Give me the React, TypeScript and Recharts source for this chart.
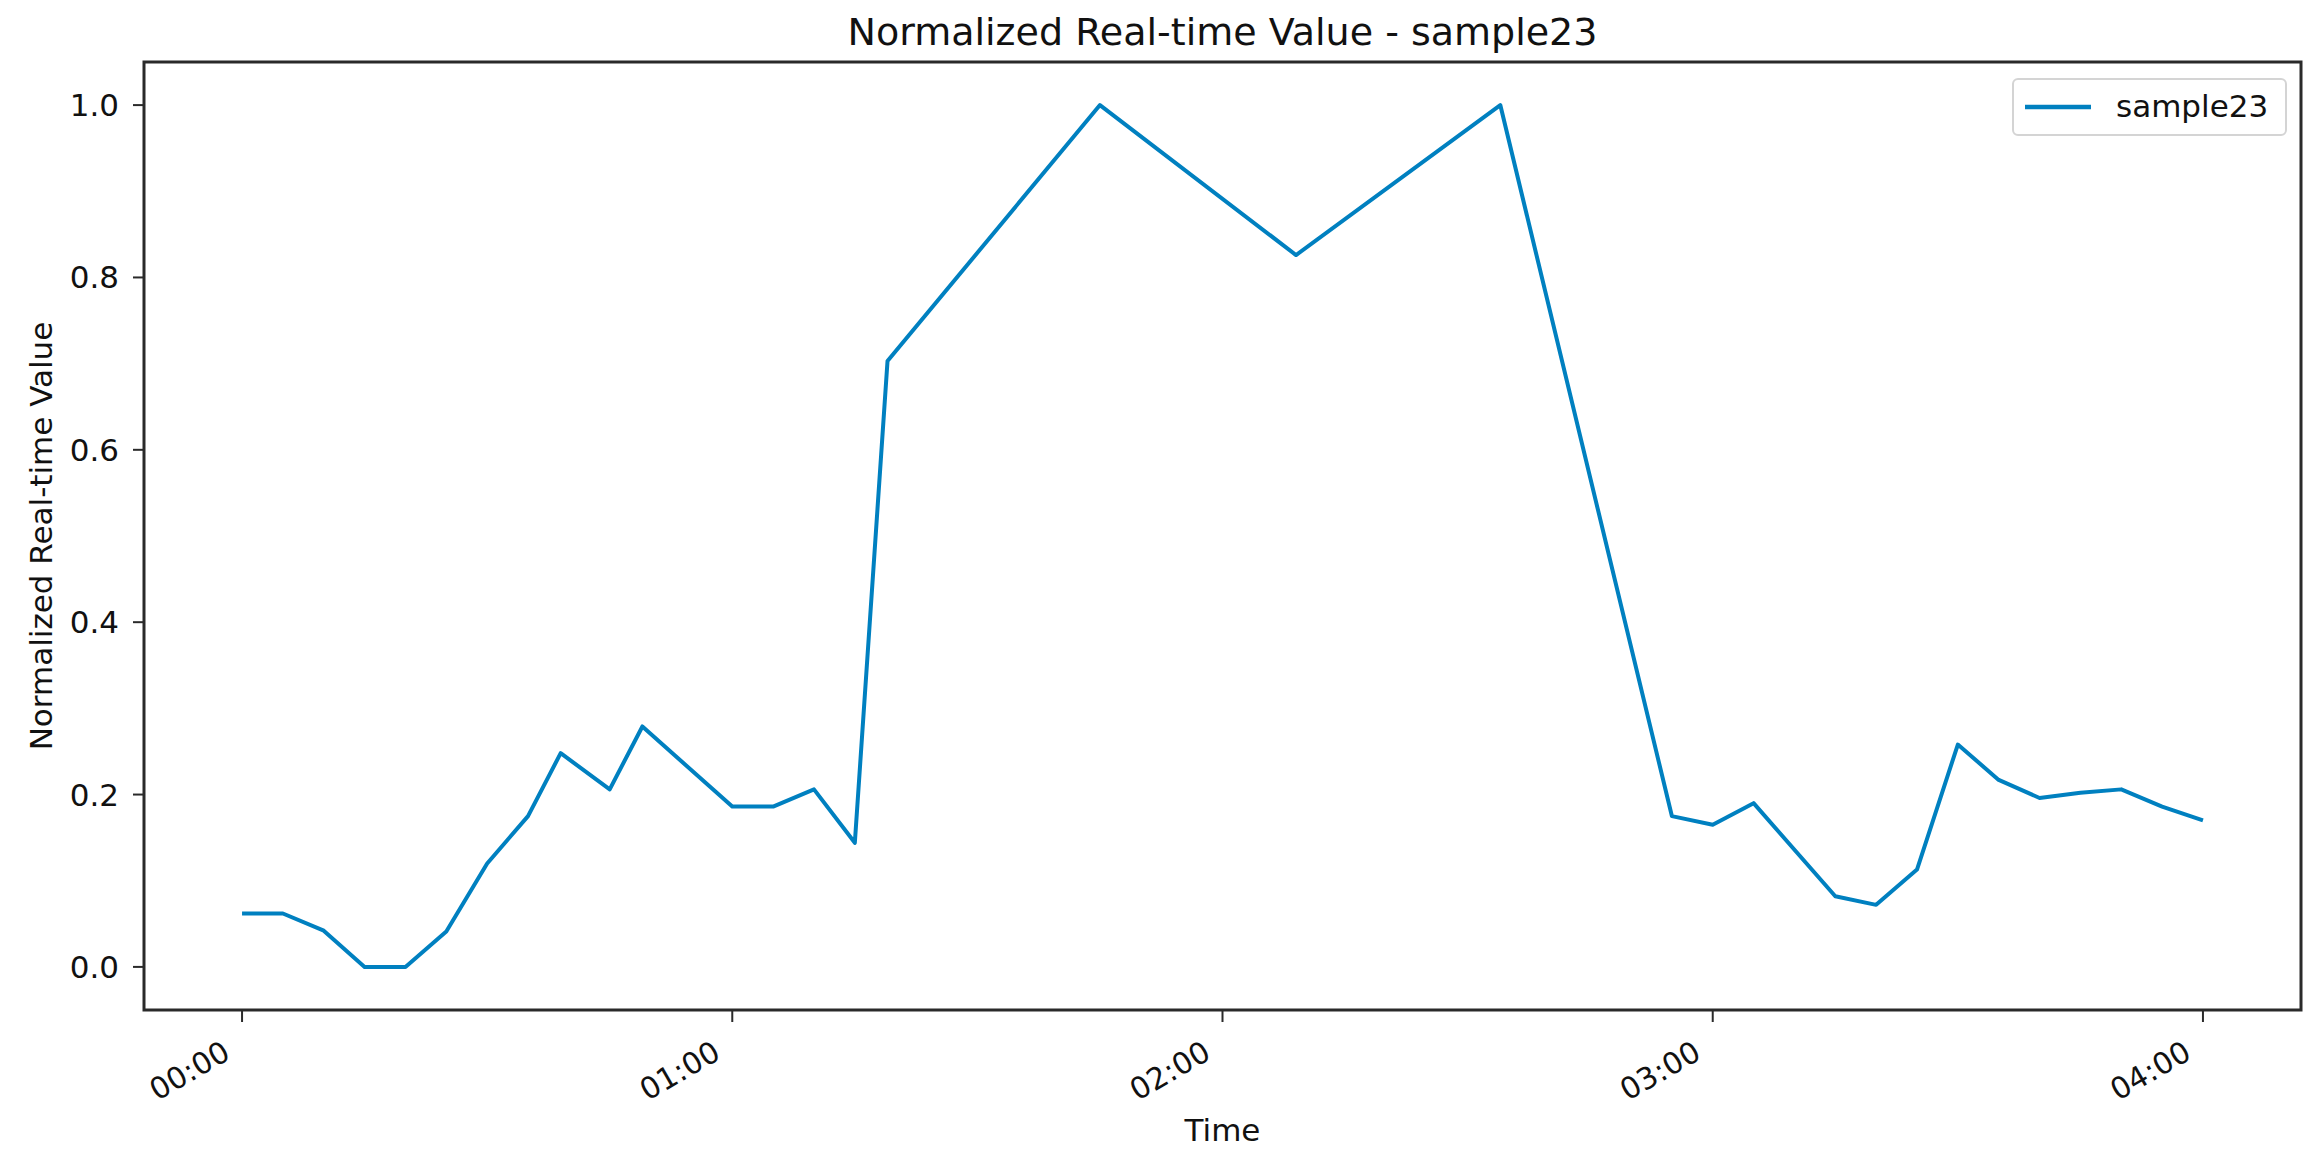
import React from 'react';
import {
  LineChart,
  Line,
  XAxis,
  YAxis,
  Legend,
  ReferenceArea,
} from 'recharts';

// --- Data (minutes since 00:00, normalized value) ---
const minutes = [
  0, 5, 10, 15, 20, 25, 30, 35, 39, 45, 49, 60, 65, 70, 75, 79,
  105, 129, 154, 175, 180, 185, 195, 200, 205, 210, 215, 220, 225, 230, 235, 240,
];
const values = [
  0.062, 0.062, 0.042, 0.0, 0.0, 0.041, 0.12, 0.175, 0.248, 0.206, 0.279, 0.186, 0.186, 0.206, 0.144, 0.703,
  1.0, 0.826, 1.0, 0.175, 0.165, 0.19, 0.082, 0.072, 0.113, 0.258, 0.217, 0.196, 0.202, 0.206, 0.186, 0.17,
];
const xTicks = [0, 60, 120, 180, 240];
const yTicks = [0, 0.2, 0.4, 0.6, 0.8, 1.0];
const seriesName = 'sample23';

const data = minutes.map((t, i) => ({ t, v: values[i] }));

const W = 2322;
const H = 1166;
const FONT = '"DejaVu Sans", sans-serif';
const LINE_COLOR = '#0080c0';
const TEXT_COLOR = '#111';
const SPINE = '#2a2a2a';

const fmtTime = (m: number) => {
  const h = Math.floor(m / 60);
  const mm = m % 60;
  return `${String(h).padStart(2, '0')}:${String(mm).padStart(2, '0')}`;
};

// rotated tick labels like matplotlib's autofmt_xdate
const TimeTick = (props: any) => {
  const { x, y, payload } = props;
  const ax = x - 10;
  const ay = y + 36;
  return (
    <text
      x={ax}
      y={ay}
      textAnchor="end"
      transform={`rotate(-30, ${ax}, ${ay})`}
      fontFamily={FONT}
      fontSize={30}
      fill={TEXT_COLOR}
    >
      {fmtTime(payload.value)}
    </text>
  );
};

const LegendBox = (props: any) => {
  const item = props.payload && props.payload[0];
  return (
    <div
      style={{
        boxSizing: 'border-box',
        width: 275,
        height: 58,
        border: '2px solid #d4d4d4',
        borderRadius: 6,
        background: 'rgba(255,255,255,0.8)',
        display: 'flex',
        alignItems: 'center',
        fontFamily: FONT,
        fontSize: 31,
        color: TEXT_COLOR,
      }}
    >
      <svg width={104} height={20} style={{ flex: 'none', marginLeft: -2 }}>
        <line x1={13} x2={79} y1={10} y2={10} stroke={item ? item.color : LINE_COLOR} strokeWidth={4.5} />
      </svg>
      <span style={{ lineHeight: '31px', marginTop: -2 }}>{item ? item.value : seriesName}</span>
    </div>
  );
};

const App: React.FC = () => {
  return (
    <div style={{ position: 'absolute', left: 0, top: 0, width: W, height: H, background: '#fff' }}>
      <div
        style={{
          position: 'absolute',
          left: 144,
          width: 2157,
          top: 13,
          textAlign: 'center',
          fontFamily: FONT,
          fontSize: 38,
          lineHeight: '38px',
          color: TEXT_COLOR,
        }}
      >
        Normalized Real-time Value - sample23
      </div>
      <LineChart width={W} height={H} data={data} margin={{ top: 62, right: 21, left: 0, bottom: 0 }}>
        <XAxis
          dataKey="t"
          type="number"
          domain={[-12, 252]}
          ticks={xTicks}
          allowDataOverflow
          height={156}
          axisLine={false}
          tickSize={12}
          tickMargin={0}
          tickLine={{ stroke: SPINE, strokeWidth: 2 }}
          tick={<TimeTick />}
          label={{
            content: (p: any) => {
              const vb = p.viewBox || { x: 144, y: 1010, width: 2157 };
              return (
                <text
                  x={vb.x + vb.width / 2}
                  y={vb.y + 131}
                  textAnchor="middle"
                  fontFamily={FONT}
                  fontSize={31}
                  fill={TEXT_COLOR}
                >
                  Time
                </text>
              );
            },
          }}
        />
        <YAxis
          type="number"
          domain={[-0.05, 1.05]}
          ticks={yTicks}
          allowDataOverflow
          width={144}
          axisLine={false}
          tickSize={11}
          tickMargin={14}
          tickLine={{ stroke: SPINE, strokeWidth: 2 }}
          tick={{ fontFamily: FONT, fontSize: 31, fill: TEXT_COLOR }}
          tickFormatter={(v: number) => v.toFixed(1)}
          label={{
            content: (p: any) => {
              const vb = p.viewBox || { y: 62, height: 948 };
              const cy = vb.y + vb.height / 2;
              return (
                <text
                  x={52}
                  y={cy}
                  textAnchor="middle"
                  transform={`rotate(-90, 52, ${cy})`}
                  fontFamily={FONT}
                  fontSize={31}
                  fill={TEXT_COLOR}
                >
                  Normalized Real-time Value
                </text>
              );
            },
          }}
        />
        <ReferenceArea
          x1={-12}
          x2={252}
          y1={-0.05}
          y2={1.05}
          fill="none"
          stroke={SPINE}
          strokeWidth={3}
          ifOverflow="visible"
        />
        <Legend
          layout="vertical"
          align="center"
          verticalAlign="middle"
          wrapperStyle={{ left: 2012, top: 78, width: 275, height: 58 }}
          content={<LegendBox />}
        />
        <Line
          type="linear"
          dataKey="v"
          name={seriesName}
          stroke={LINE_COLOR}
          strokeWidth={4}
          strokeLinejoin="round"
          dot={false}
          activeDot={false}
          isAnimationActive={false}
        />
      </LineChart>
    </div>
  );
};

export default App;
